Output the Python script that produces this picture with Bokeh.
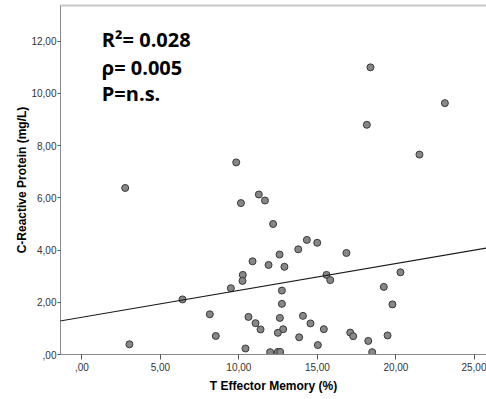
from bokeh.plotting import figure
from bokeh.models import Slope, Label, FixedTicker, LinearAxis
from bokeh.embed import file_html
from bokeh.resources import INLINE

# --- data ---
t_effector_memory = [2.76, 9.83, 18.38, 23.12, 18.15, 21.50, 11.27, 11.66, 10.13,
                     6.41, 3.03, 8.15, 12.18, 14.33, 14.99, 13.78, 16.85, 12.59,
                     10.87, 11.89, 12.90, 10.25, 10.23, 15.58, 15.82, 9.49, 12.74,
                     12.74, 10.61, 12.61, 14.08, 11.06, 11.38, 12.82, 12.48, 14.56,
                     15.41, 13.84, 17.09, 8.53, 10.42, 11.99, 12.48, 12.63, 15.03,
                     20.29, 19.23, 19.78, 17.28, 18.24, 19.47, 18.49]
crp = [6.38, 7.36, 11.00, 9.63, 8.80, 7.66, 6.13, 5.90, 5.80,
       2.11, 0.39, 1.54, 5.00, 4.39, 4.28, 4.03, 3.89, 3.83,
       3.57, 3.43, 3.36, 3.05, 2.82, 3.05, 2.85, 2.54, 2.45,
       1.94, 1.44, 1.40, 1.48, 1.20, 0.96, 0.97, 0.83, 1.19,
       0.97, 0.66, 0.84, 0.71, 0.23, 0.09, 0.10, 0.10, 0.36,
       3.15, 2.59, 1.92, 0.70, 0.52, 0.73, 0.09]

fit_intercept = 1.427
fit_slope = 0.103

x_ticks = [0, 5, 10, 15, 20, 25]
x_tick_labels = [",00", "5,00", "10,00", "15,00", "20,00", "25,00"]
y_ticks = [0, 2, 4, 6, 8, 10, 12]
y_tick_labels = [",00", "2,00", "4,00", "6,00", "8,00", "10,00", "12,00"]

stats_lines = ["R\u00b2= 0.028", "\u03c1= 0.005", "P=n.s."]
stats_x = [1.27, 1.27, 1.27]
stats_y = [12.06, 10.98, 10.00]

x_title = "T Effector Memory (%)"
y_title = "C-Reactive Protein (mg/L)"

p = figure(width=486, height=399, output_backend="svg", toolbar_location=None,
           x_range=(-1.36, 25.77), y_range=(0, 13.37),
           min_border_left=60, min_border_right=0, min_border_top=5,
           min_border_bottom=45)

p.background_fill_color = "white"
p.border_fill_color = "white"
p.outline_line_color = None
p.xgrid.visible = False
p.ygrid.visible = False

xax = p.below[0]
yax = p.left[0]

for ax in (xax, yax):
    ax.axis_line_color = "#8a8a8a"
    ax.major_tick_line_color = "#555555"
    ax.minor_tick_line_color = None
    ax.major_tick_in = 0
    ax.major_label_text_font = "Liberation Sans"
    ax.major_label_text_font_size = "10px"
    ax.major_label_text_color = "#333333"
    ax.axis_label_text_font = "Liberation Sans"
    ax.axis_label_text_font_style = "bold"
    ax.axis_label_text_font_size = "12px"
    ax.axis_label_text_color = "black"

xax.ticker = FixedTicker(ticks=x_ticks)
xax.major_label_overrides = dict(zip(x_ticks, x_tick_labels))
xax.major_tick_out = 5
xax.major_label_standoff = 3
xax.axis_label = x_title
xax.axis_label_standoff = 5

yax.ticker = FixedTicker(ticks=y_ticks)
yax.major_label_overrides = dict(zip(y_ticks, y_tick_labels))
yax.major_tick_out = 3
yax.major_label_standoff = 1
yax.axis_label = y_title
yax.axis_label_standoff = -1

# top frame line
top_axis = LinearAxis(ticker=FixedTicker(ticks=[]), axis_line_color="#c8c8c8",
                      axis_line_width=2, major_tick_line_color=None,
                      minor_tick_line_color=None, major_label_text_alpha=0,
                      major_label_text_font_size="1px",
                      major_label_standoff=0, major_tick_out=0, major_tick_in=0)
p.add_layout(top_axis, "above")

p.scatter(t_effector_memory, crp, size=7, fill_color="#878787",
          line_color="#383838", line_width=1)

p.add_layout(Slope(gradient=fit_slope, y_intercept=fit_intercept,
                   line_color="#1a1a1a", line_width=1.2))

for txt, tx, ty in zip(stats_lines, stats_x, stats_y):
    p.add_layout(Label(x=tx, y=ty, text=txt, text_font="Open Sans",
                       text_font_style="bold", text_font_size="20px",
                       text_color="black", text_baseline="alphabetic"))

open("out.html", "w").write(file_html(p, INLINE))
